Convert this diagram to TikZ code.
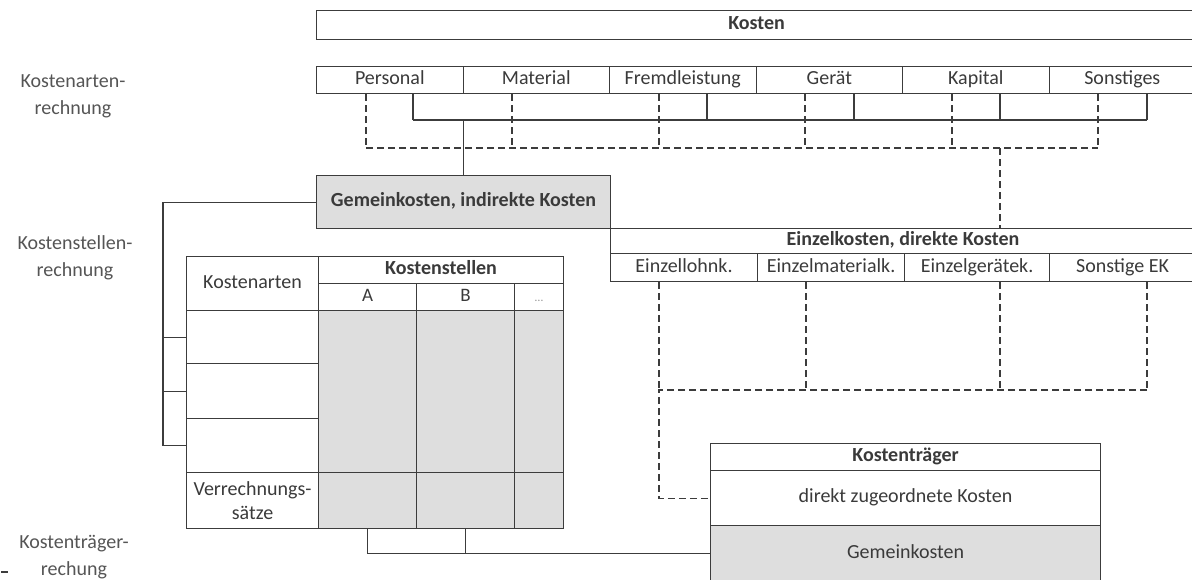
\documentclass[tikz,border=0pt]{standalone}
\usepackage{fontspec}
\setmainfont{Carlito}
\definecolor{linec}{HTML}{3C3C3C}
\definecolor{textc}{HTML}{3A3A3A}
\definecolor{grayf}{HTML}{DEDEDE}
\definecolor{labc}{HTML}{555555}
\begin{document}
\begin{tikzpicture}[x=1pt,y=-1pt,
 cell/.style={draw=linec,line width=1.1pt,inner sep=0pt,anchor=north west,text=textc,
   font=\fontsize{20}{24}\selectfont,text height=13pt,text depth=4pt},
 bcell/.style={cell,font=\fontsize{20}{24}\selectfont\bfseries},
 gcell/.style={cell,fill=grayf},
 mcell/.style={draw=linec,line width=1.1pt,inner sep=0pt,anchor=north west,text=textc,
   font=\fontsize{20}{24}\selectfont,align=center},
 conn/.style={draw=linec,line width=1.1pt},
 dconn/.style={conn,dash pattern=on 7pt off 4pt},
 lab/.style={text=labc,font=\fontsize{20}{27}\selectfont,align=center}
]
\useasboundingbox (0,0) rectangle (1192,579);
\clip (0,0) rectangle (1192,579);

% top
\node[bcell,minimum width=880pt,minimum height=29pt] (kosten) at (316,10) {Kosten};
\foreach \i/\t in {1/Personal,2/Material,3/Fremdleistung,4/Gerät,5/Kapital,6/Sonstiges}
  \node[cell,minimum width=146.5pt,minimum height=27pt] (c\i) at ({316+(\i-1)*146.5},66) {\t};

% solid collector
\foreach \i/\x in {1/413,3/707,4/854,5/1000,6/1147}
  \coordinate (s\i) at (\x,120);
\foreach \i in {1,3,4,5,6}
  \draw[conn] (c\i.south -| s\i) -- (s\i);
\draw[conn] (s1) -- (s6);

% dashed collector
\foreach \i/\x in {1/366,2/512,3/659,4/805,5/952,6/1098}
  \coordinate (d\i) at (\x,148);
\foreach \i in {1,...,6}
  \draw[dconn] (c\i.south -| d\i) -- (d\i);
\draw[dconn] (d1) -- (d6);
\coordinate (d7) at (1000,148);

% Gemeinkosten
\node[bcell,fill=grayf,minimum width=294pt,minimum height=53pt] (gem) at (316,175) {Gemeinkosten, indirekte Kosten};
\draw[conn] (s1 -| gem.north) -- (gem.north);

% Einzelkosten
\node[bcell,minimum width=585pt,minimum height=25pt] (ek) at (610,228) {Einzelkosten, direkte Kosten};
\draw[dconn] (d7) -- (d7 |- ek.north);
\node[cell,minimum width=147pt,minimum height=28pt] (e1) at (610,253) {Einzellohnk.};
\node[cell,minimum width=147pt,minimum height=28pt] (e2) at (757,253) {Einzelmaterialk.};
\node[cell,minimum width=145pt,minimum height=28pt] (e3) at (904,253) {Einzelgerätek.};
\node[cell,minimum width=146pt,minimum height=28pt] (e4) at (1049,253) {Sonstige EK};

% table
\node[cell,minimum width=132pt,minimum height=54pt] (ka) at (186,256) {Kostenarten};
\node[bcell,minimum width=245pt,minimum height=27pt] (ks) at (318,256) {Kostenstellen};
\node[cell,font=\fontsize{19}{22}\selectfont,minimum width=98pt,minimum height=27pt] (hA) at (318,283) {A};
\node[cell,font=\fontsize{19}{22}\selectfont,minimum width=98pt,minimum height=27pt] (hB) at (416,283) {B};
\node[cell,font=\fontsize{12}{14}\selectfont,text=labc!60,minimum width=49pt,minimum height=27pt] (hD) at (514,283) {…};
\node[cell,minimum width=132pt,minimum height=53pt] (r1) at (186,310) {};
\node[cell,minimum width=132pt,minimum height=55pt] (r2) at (186,363) {};
\node[cell,minimum width=132pt,minimum height=54pt] (r3) at (186,418) {};
\node[mcell,minimum width=132pt,minimum height=56pt] (rv) at (186,472) {Verrechnungs-\\sätze};
\node[gcell,minimum width=98pt,minimum height=162pt] (gA) at (318,310) {};
\node[gcell,minimum width=98pt,minimum height=162pt] (gB) at (416,310) {};
\node[gcell,minimum width=49pt,minimum height=162pt] (gD) at (514,310) {};
\node[gcell,minimum width=98pt,minimum height=56pt] (vA) at (318,472) {};
\node[gcell,minimum width=98pt,minimum height=56pt] (vB) at (416,472) {};
\node[gcell,minimum width=49pt,minimum height=56pt] (vD) at (514,472) {};

% left bracket
\coordinate (lb) at (163,0);
\draw[conn] (gem.west) -- (gem.west -| lb) -- (lb |- r3.west) -- (r3.west);
\draw[conn] (lb |- r1.west) -- (r1.west);
\draw[conn] (lb |- r2.west) -- (r2.west);

% Kostentraeger
\node[bcell,minimum width=390pt,minimum height=27pt] (kt) at (710,443) {Kostenträger};
\node[cell,minimum width=390pt,minimum height=55pt] (ktd) at (710,470) {direkt zugeordnete Kosten};
\node[gcell,minimum width=390pt,minimum height=56pt] (ktg) at (710,525) {Gemeinkosten};

% bottom bracket
\draw[conn] (vA.south) -- (vA.south |- ktg.west) -- (ktg.west);
\draw[conn] (vB.south) -- (vB.south |- ktg.west);

% dashed from Einzelkosten
\foreach \i/\x in {1/659,2/806,3/1000,4/1147}
  \coordinate (f\i) at (\x,390);
\foreach \i in {1,...,4}
  \draw[dconn] (e\i.south -| f\i) -- (f\i);
\draw[dconn] (f4) -- (f1) -- (f1 |- ktd.west) -- (ktd.west);

% left labels
\node[lab] (la1) at (73,96) {Kostenarten-\\rechnung};
\node[lab] (la2) at (75,258) {Kostenstellen-\\rechnung};
\node[lab] (la3) at (74,557) {Kostenträger-\\rechung};
\draw[linec,line width=2pt] (1,572) -- (8,572);
\end{tikzpicture}
\end{document}
